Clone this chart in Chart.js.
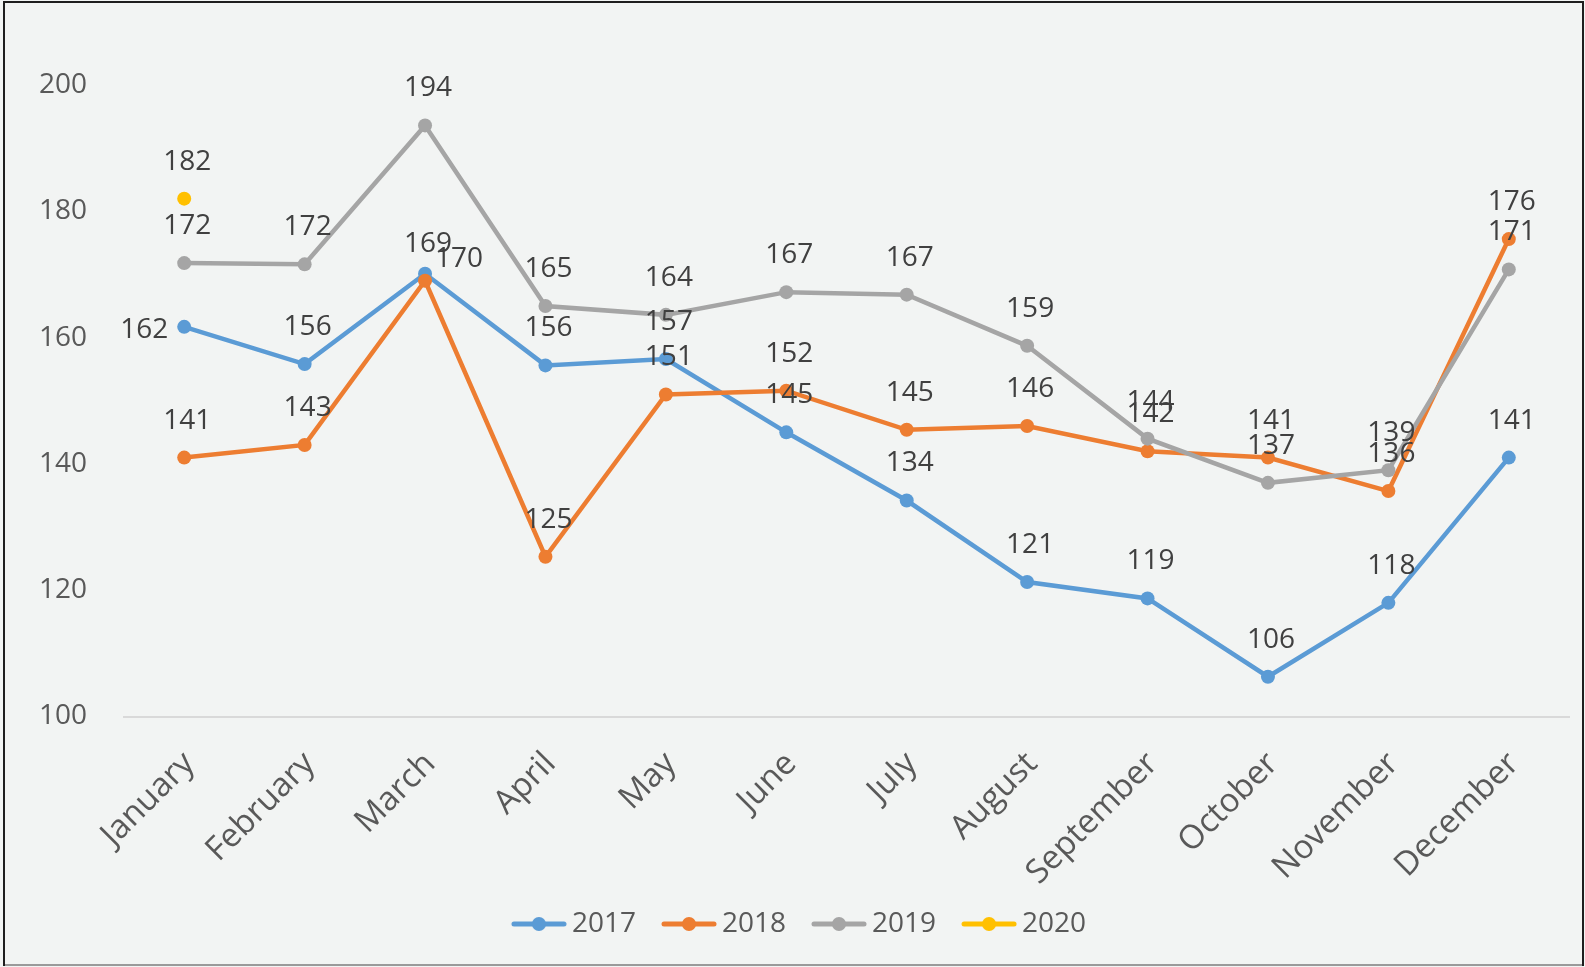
<!DOCTYPE html>
<html>
<head>
<meta charset="utf-8">
<script src="https://cdn.jsdelivr.net/npm/chart.js@4.4.1/dist/chart.umd.min.js"></script>
<style>
  html, body { margin: 0; padding: 0; background: #f2f4f3; }
  #wrap { width: 1585px; height: 967px; }
</style>
</head>
<body>
<div id="wrap"><canvas id="chart" width="1585" height="967"></canvas></div>
<script>
const months = ['January', 'February', 'March', 'April', 'May', 'June', 'July',
                'August', 'September', 'October', 'November', 'December'];
const years = ['2017', '2018', '2019', '2020'];
const sales2017 = [161.7, 155.8, 170.1, 155.6, 156.6, 145, 134.2, 121.3, 118.7, 106.3, 118, 141];
const sales2018 = [141, 143, 169, 125.3, 151, 151.6, 145.4, 146, 142, 141, 135.7, 175.6];
const sales2019 = [171.8, 171.6, 193.6, 165, 163.6, 167.2, 166.8, 158.7, 144, 137, 139, 170.8];
const sales2020 = [182, null, null, null, null, null, null, null, null, null, null, null];
const yTicks = [100, 120, 140, 160, 180, 200];

const colors = ['#5b9bd5', '#ed7d31', '#a5a5a5', '#ffc000'];
const FONT = '"Open Sans", "Liberation Sans", sans-serif';

// label position tweaks, "dataset-index" -> [dx, dy] from the point
const labelShift = { '0-0': [-40, 3], '0-2': [34, -15] };

// legend marker: transparent strip on the left, line + dot on the right
function legendMark(color) {
    const cv = document.createElement('canvas');
    cv.width = 80; cv.height = 16;
    const g = cv.getContext('2d');
    g.strokeStyle = color; g.lineWidth = 5; g.lineCap = 'round';
    g.beginPath(); g.moveTo(27, 8); g.lineTo(77, 8); g.stroke();
    g.fillStyle = color;
    g.beginPath(); g.arc(52, 8, 7, 0, Math.PI * 2); g.fill();
    return cv;
}

const frame = {
    id: 'frame',
    beforeDraw(chart) {
        const c = chart.ctx;
        c.save();
        c.fillStyle = '#f2f4f3';
        c.fillRect(0, 0, chart.width, chart.height);
        c.lineWidth = 2;
        c.strokeStyle = '#9a9a9a';
        c.beginPath(); c.moveTo(4, 965); c.lineTo(1583, 965); c.stroke();
        c.strokeStyle = '#1e1e1e';
        c.beginPath(); c.moveTo(4, 966); c.lineTo(4, 2); c.lineTo(1583, 2); c.lineTo(1583, 966); c.stroke();
        c.restore();
    }
};

const valueLabels = {
    id: 'valueLabels',
    afterDatasetsDraw(chart) {
        const c = chart.ctx;
        c.save();
        c.font = '28px ' + FONT;
        c.fillStyle = '#404040';
        c.textAlign = 'center';
        c.textBaseline = 'middle';
        chart.data.datasets.forEach((ds, i) => {
            chart.getDatasetMeta(i).data.forEach((pt, j) => {
                const v = ds.data[j];
                if (v == null) return;
                const [dx, dy] = labelShift[i + '-' + j] || [3, -37];
                c.fillText(Math.round(v), pt.x + dx, pt.y + dy);
            });
        });
        c.restore();
    }
};

const legendShift = {
    id: 'legendShift',
    afterLayout(chart) {
        chart.legend.left += 6.5;
        chart.legend.right += 6.5;
    }
};

const series = [sales2017, sales2018, sales2019, sales2020];

new Chart(document.getElementById('chart'), {
    type: 'line',
    data: {
        labels: months,
        datasets: series.map((d, i) => ({
            label: years[i],
            data: d,
            borderColor: colors[i],
            backgroundColor: colors[i],
            pointBackgroundColor: colors[i],
            pointBorderWidth: 0,
            pointRadius: 7,
            borderWidth: 4.5,
            tension: 0,
            fill: false,
            order: 3 - i
        }))
    },
    options: {
        responsive: false,
        devicePixelRatio: 1,
        animation: false,
        layout: { padding: { top: 85, right: 16, bottom: 19, left: 0 } },
        plugins: {
            tooltip: { enabled: false },
            legend: {
                position: 'bottom',
                labels: {
                    usePointStyle: true,
                    pointStyleWidth: 62,
                    padding: 10,
                    color: '#595959',
                    font: { family: FONT, size: 28 },
                    generateLabels: (chart) => chart.data.datasets.map((ds, i) => ({
                        text: ds.label,
                        pointStyle: legendMark(ds.borderColor),
                        fillStyle: ds.borderColor,
                        strokeStyle: ds.borderColor,
                        lineWidth: 0,
                        hidden: false,
                        datasetIndex: i,
                        fontColor: '#595959'
                    }))
                }
            }
        },
        scales: {
            x: {
                offset: true,
                grid: { display: false, drawTicks: false },
                border: { display: true, color: '#d9d9d9', width: 2 },
                ticks: {
                    autoSkip: false, minRotation: 45, maxRotation: 45,
                    padding: 28, labelOffset: 5,
                    color: '#595959', font: { family: FONT, size: 33 }
                },
                afterFit: (s) => { s.height = 183.5; }
            },
            y: {
                min: 100, max: 200,
                grid: { display: false, drawTicks: false },
                border: { display: false },
                ticks: { padding: 37, color: '#595959', font: { family: FONT, size: 28 } },
                afterBuildTicks: (s) => { s.ticks = yTicks.map(v => ({ value: v })); },
                afterFit: (s) => { s.width = 124; }
            }
        }
    },
    plugins: [frame, valueLabels, legendShift]
});
</script>
</body>
</html>
